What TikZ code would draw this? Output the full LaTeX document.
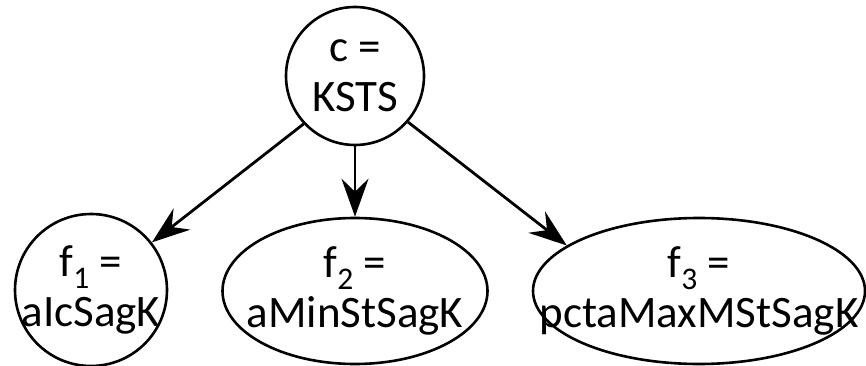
\documentclass[tikz,border=0pt]{standalone}
\usepackage{fontspec}
\setmainfont{Carlito}
\usetikzlibrary{arrows.meta,shapes.geometric}

\begin{document}
\begin{tikzpicture}[x=1pt,y=-1pt]
\useasboundingbox (0,0) rectangle (866,366);
\begin{scope}[every node/.style={draw,line width=2.6pt,inner sep=-60pt,align=center,
    font=\fontsize{45}{50}\selectfont}]
    \node[circle,minimum size=138pt] (c) at (355,76){c =\\KSTS};
    \node[circle,minimum size=152pt] (fa) at (91,290){f\textsubscript{1} =\\aIcSagK};
    \node[ellipse,minimum width=265pt,minimum height=146pt] (fb) at (355,291){f\textsubscript{2} =\\aMinStSagK};
    \node[ellipse,minimum width=332pt,minimum height=146pt] (fc) at (699,291){f\textsubscript{3} =\\pctaMaxMStSagK};
\end{scope}

    \path [-{Stealth[length=38pt,width=27pt,inset=13pt]},line width=2.8pt] (c.-137) edge (fa.38);

    \path [-{Stealth[length=38pt,width=27pt,inset=13pt]},line width=2.8pt] (c.-90) edge (fb.90);

    \path [-{Stealth[length=38pt,width=27pt,inset=13pt]},line width=2.8pt] (c.-41) edge (fc.161);

\end{tikzpicture}
\end{document}
